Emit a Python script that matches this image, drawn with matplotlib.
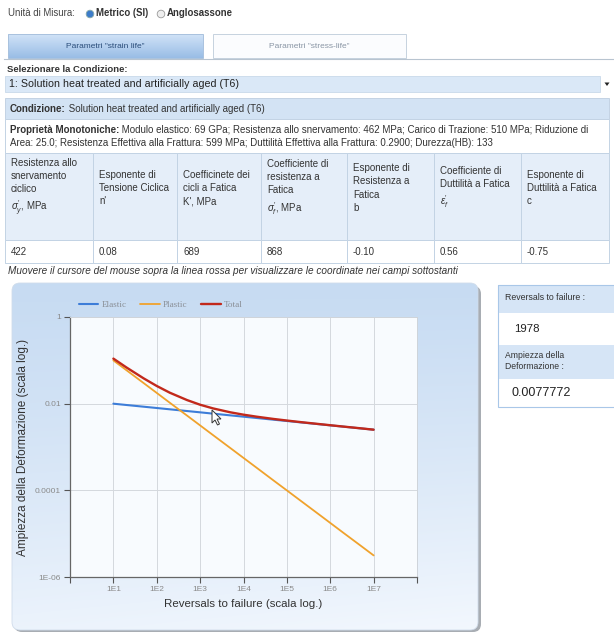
import numpy as np
import matplotlib
matplotlib.use('Agg')
import matplotlib.pyplot as plt
from matplotlib.patches import Rectangle, FancyBboxPatch, Circle, Polygon

# ---------------- data ----------------
reversals = [1e1, 2e1, 5e1, 1e2, 2e2, 5e2, 1e3, 2e3, 5e3, 1e4, 2e4, 5e4,
             1e5, 2e5, 5e5, 1e6, 2e6, 5e6, 1e7]
elastic = [0.00999, 0.00932, 0.00851, 0.00794, 0.00741, 0.00676, 0.00631,
           0.00588, 0.00537, 0.00501, 0.00467, 0.00426, 0.00398, 0.00371,
           0.00339, 0.00316, 0.00295, 0.00269, 0.00251]
plastic = [0.0996, 0.0592, 0.0298, 0.0177, 0.0105, 0.00530, 0.00315,
           0.00187, 0.000942, 0.000560, 0.000333, 0.000167, 9.96e-5,
           5.92e-5, 2.98e-5, 1.77e-5, 1.05e-5, 5.30e-6, 3.15e-6]
total = [0.1096, 0.0685, 0.0383, 0.0256, 0.0179, 0.0121, 0.00945, 0.00776,
         0.00631, 0.00557, 0.00501, 0.00443, 0.00408, 0.00377, 0.00342,
         0.00318, 0.00296, 0.00270, 0.00251]
series_names = ['Elastic', 'Plastic', 'Total']
series_colors = ['#3d7dd8', '#f0a22c', '#c2291b']

x_ticks = [1e0, 1e1, 1e2, 1e3, 1e4, 1e5, 1e6, 1e7, 1e8]
x_tick_labels = ['', '1E1', '1E2', '1E3', '1E4', '1E5', '1E6', '1E7', '']
y_ticks = [1e-6, 1e-4, 1e-2, 1]
y_tick_labels = ['1E-06', '0.0001', '0.01', '1']

header_cells = [
    "Resistenza allo\nsnervamento\nciclico\n$\\sigma^{\\prime}_{y}$, MPa",
    "Esponente di\nTensione Ciclica\nn'",
    "Coefficinete dei\ncicli a Fatica\nK', MPa",
    "Coefficiente di\nresistenza a\nFatica\n$\\sigma^{\\prime}_{f}$, MPa",
    "Esponente di\nResistenza a\nFatica\nb",
    "Coefficiente di\nDuttilità a Fatica\n$\\epsilon^{\\prime}_{f}$",
    "Esponente di\nDuttilità a Fatica\nc",
]
value_cells = ['422', '0.08', '689', '868', '-0.10', '0.56', '-0.75']
condition = "Solution heat treated and artificially aged (T6)"
props_line1 = " Modulo elastico: 69 GPa; Resistenza allo snervamento: 462 MPa; Carico di Trazione: 510 MPa; Riduzione di"
props_line2 = "Area: 25.0; Resistenza Effettiva alla Frattura: 599 MPa; Duttilità Effettiva alla Frattura: 0.2900; Durezza(HB): 133"
readout_reversals = '1978'
readout_strain = '0.0077772'

# ---------------- figure ----------------
W, H = 614, 632
plt.rcParams['font.family'] = ['Liberation Sans', 'DejaVu Sans']
plt.rcParams['mathtext.fontset'] = 'custom'
plt.rcParams['mathtext.rm'] = 'Liberation Sans'
plt.rcParams['mathtext.it'] = 'Liberation Sans:italic'
fig = plt.figure(figsize=(W / 100, H / 100), dpi=100)
fig.patch.set_facecolor('white')

bg = fig.add_axes([0, 0, 1, 1], zorder=0)
bg.axis('off')
renderer = fig.canvas.get_renderer()
TXT = '#333333'


def px(v):
    return v * 0.72


def rich(x, y, parts, size, color=TXT):
    for txt, weight in parts:
        t = bg.text(x, y, txt, fontsize=size, fontweight=weight, color=color,
                    va='center', ha='left', zorder=5)
        bb = t.get_window_extent(renderer)
        x += bb.width


# --- unit selector ---
bg.text(8, 13, 'Unità di Misura:', fontsize=px(9.6), color='#444', va='center')
bg.add_patch(Circle((90, 14), 3.8, facecolor='#3d7cc9', edgecolor='#8aa', lw=0.6, zorder=3))
bg.text(96, 13, 'Metrico (SI)', fontsize=px(9.6), fontweight='bold', color='#333', va='center')
bg.add_patch(Circle((161, 14), 3.8, facecolor='#eeeeee', edgecolor='#999', lw=0.6, zorder=3))
bg.text(167, 13, 'Anglosassone', fontsize=px(9.6), fontweight='bold', color='#333', va='center')

# --- tabs ---
g = np.linspace(0, 1, 64)[:, None, None]
tab1 = np.array([0.82, 0.89, 0.97]) + (np.array([0.60, 0.74, 0.90]) - np.array([0.82, 0.89, 0.97])) * g
bg.imshow(tab1, extent=(8, 203, 58, 34), aspect='auto', zorder=1)
bg.add_patch(Rectangle((8, 34), 195, 24, fill=False, edgecolor='#a9c2de', lw=0.7, zorder=2))
bg.text(105.5, 46, 'Parametri "strain life"', fontsize=px(8.4), color='#2a4d7a', ha='center', va='center', zorder=3)
bg.add_patch(Rectangle((213, 34), 193, 24, facecolor='#fbfcfe', edgecolor='#c6d2df', lw=0.7, zorder=2))
bg.text(309.5, 46, 'Parametri "stress-life"', fontsize=px(8.4), color='#8a96a5', ha='center', va='center', zorder=3)
bg.plot([4, 614], [59, 59], color='#b8c4d0', lw=0.8, zorder=2)

# --- condition selector ---
bg.text(7, 69, 'Selezionare la Condizione:', fontsize=px(9.5), fontweight='bold', color='#333', va='center')
bg.add_patch(Rectangle((5, 76), 595, 16, facecolor='#dae8f7', edgecolor='#c9d9ea', lw=0.6, zorder=2))
bg.text(9, 84, '1: ' + condition, fontsize=px(10.6), color='#222', va='center', zorder=3)
bg.add_patch(Polygon([[604.5, 82.5], [609.5, 82.5], [607, 86]], closed=True, facecolor='#222', zorder=3))

# --- table ---
BORDER = '#c3d3e4'
FS = px(9.8)
tx0, tx1 = 5, 609
bg.add_patch(Rectangle((tx0, 98), tx1 - tx0, 21, facecolor='#d3e3f4', edgecolor=BORDER, lw=0.7, zorder=2))
rich(10, 108.5, [('Condizione:', 'bold'), (' ' + condition, 'normal')], FS)
bg.add_patch(Rectangle((tx0, 119), tx1 - tx0, 34, facecolor='white', edgecolor=BORDER, lw=0.7, zorder=2))
rich(10, 130, [('Proprietà Monotoniche:', 'bold'), (props_line1, 'normal')], FS)
bg.text(10, 143.5, props_line2, fontsize=FS, color=TXT, va='center', zorder=5)

col_edges = [5, 93, 177, 261, 347, 434, 521, 609]
hy0, hy1, vy1 = 153, 240, 263
for i in range(7):
    x0, x1 = col_edges[i], col_edges[i + 1]
    bg.add_patch(Rectangle((x0, hy0), x1 - x0, hy1 - hy0, facecolor='#e5eef9', edgecolor=BORDER, lw=0.7, zorder=2))
    bg.add_patch(Rectangle((x0, hy1), x1 - x0, vy1 - hy1, facecolor='white', edgecolor=BORDER, lw=0.7, zorder=2))
    bg.text(x0 + 6, 188, header_cells[i], fontsize=FS, color=TXT,
            va='center', ha='left', linespacing=1.38, zorder=5)
    bg.text(x0 + 6, (hy1 + vy1) / 2 + 0.5, value_cells[i], fontsize=FS, color=TXT,
            va='center', ha='left', zorder=5)

bg.text(8, 271, 'Muovere il cursore del mouse sopra la linea rossa per visualizzare le coordinate nei campi sottostanti',
        fontsize=px(10), style='italic', color='#333', va='center')

# --- chart panel ---
shadow = FancyBboxPatch((14, 286), 467, 346, boxstyle='round,pad=0,rounding_size=8',
                        facecolor='#a8adb3', edgecolor='none', zorder=1)
bg.add_patch(shadow)
panel = FancyBboxPatch((12, 283), 466, 347, boxstyle='round,pad=0,rounding_size=8',
                       facecolor='none', edgecolor='#d0dceb', lw=0.6, zorder=3)
bg.add_patch(panel)
gy = np.linspace(0, 1, 256)[:, None]
gx = np.linspace(0, 1, 256)[None, :]
topc = np.array([0.78, 0.86, 0.95])
botc = np.array([0.95, 0.97, 0.995])
mix = np.clip(gy ** 1.2 * 0.85 + gx * 0.15 * gy, 0, 1)[..., None]
img = topc + (botc - topc) * mix
im = bg.imshow(img, extent=(12, 478, 630, 283), aspect='auto', zorder=2)
im.set_clip_path(panel)

# --- readout panel ---
rx0 = 498
rows = [(285, 313, '#d6e5f6'), (313, 345, 'white'), (345, 379, '#d6e5f6'), (379, 407, 'white')]
for y0, y1, c in rows:
    bg.add_patch(Rectangle((rx0, y0), 620 - rx0, y1 - y0, facecolor=c, edgecolor='none', zorder=2))
bg.add_patch(Rectangle((rx0, 285), 620 - rx0, 122, fill=False, edgecolor='#a9c7e8', lw=0.8, zorder=3))
bg.text(505, 298, 'Reversals to failure :', fontsize=px(8.8), color='#333', va='center', zorder=4)
bg.text(514, 329, readout_reversals, fontsize=px(11.5), color='#222', va='center', zorder=4)
bg.text(505, 361, 'Ampiezza della\nDeformazione :', fontsize=px(8.6), color='#333', va='center',
        linespacing=1.3, zorder=4)
bg.text(511, 393, readout_strain, fontsize=px(12.5), color='#222', va='center', zorder=4)

bg.set_xlim(0, W)
bg.set_ylim(H, 0)

# ---------------- chart ----------------
ax = fig.add_axes([70 / W, 1 - 577 / H, 347 / W, 260 / H], zorder=2)
ax.set_facecolor('#f8fbfe')
for vals, name, col, lw in zip([elastic, plastic, total], series_names, series_colors, [1.5, 1.3, 1.7]):
    ax.plot(reversals, vals, color=col, lw=lw, label=name, solid_capstyle='round')
ax.set_xscale('log')
ax.set_yscale('log')
ax.set_xlim(1, 1e8)
ax.set_ylim(1e-6, 1)
ax.set_xticks(x_ticks)
ax.set_xticklabels(x_tick_labels)
ax.set_yticks(y_ticks)
ax.set_yticklabels(y_tick_labels)
ax.minorticks_off()
ax.grid(True, color='#d4d8dd', lw=0.7)
ax.set_axisbelow(True)
ax.tick_params(axis='both', direction='out', length=4, width=0.8, color='#555',
               labelsize=px(8.4), labelcolor='#8a8a8a', pad=2.5)
for s in ['left', 'bottom']:
    ax.spines[s].set_color('#666')
    ax.spines[s].set_linewidth(0.9)
for s in ['top', 'right']:
    ax.spines[s].set_color('#cfd4da')
    ax.spines[s].set_linewidth(0.7)
ax.set_xlabel('Reversals to failure (scala log.)', fontsize=px(11.5), color='#333', labelpad=4)
ax.set_ylabel('Ampiezza della Deformazione (scala log.)', fontsize=px(11.8), color='#333', labelpad=4)

leg = ax.legend(loc='center left', bbox_to_anchor=(79 / W, 1 - 304.5 / H), bbox_transform=fig.transFigure,
                ncol=3, frameon=False, handlelength=2.1, handletextpad=0.35,
                columnspacing=1.5, borderaxespad=0, borderpad=0,
                prop={'family': 'Liberation Serif', 'size': px(9.2)})
for t in leg.get_texts():
    t.set_color('#8a8f96')

# mouse pointer
cx, cy = 212, 410
pointer = [[0, 0], [0, 13], [3, 10], [5.5, 15], [7.5, 14], [5, 9], [9, 9]]
ax.add_patch(Polygon([[cx + a, cy + b] for a, b in pointer], closed=True, transform=bg.transData,
                     facecolor='white', edgecolor='#333', lw=0.7, zorder=10, clip_on=False))

fig.savefig('out.png', dpi=100, facecolor='white')
